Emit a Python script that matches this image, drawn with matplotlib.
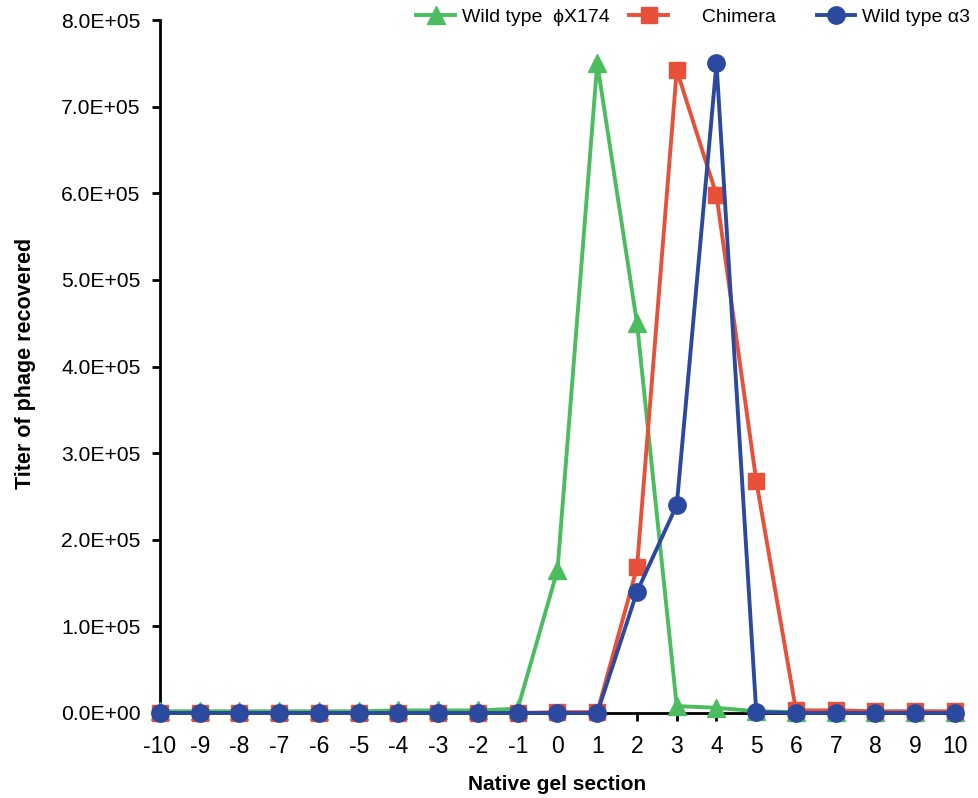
import matplotlib
matplotlib.use('Agg')
import matplotlib.pyplot as plt

plt.rcParams['font.family'] = ['Liberation Sans', 'DejaVu Sans']

# native gel sections
sections = list(range(-10, 11))

# titer of phage recovered per section
wild_phix = [2000, 2000, 2000, 2000, 2000, 2000, 3000, 3000, 3000, 5000, 165000,
             750000, 450000, 8000, 6000, 2000, 1000, 1000, 1000, 1500, 1000]
chimera = [0, 0, 0, 0, 0, 0, 0, 0, 0, 0, 1000,
           1000, 168000, 742000, 598000, 268000, 3000, 3000, 2000, 2000, 2000]
wild_alpha3 = [0, 0, 0, 0, 0, 0, 0, 0, 0, 0, 0,
               0, 140000, 240000, 750000, 1000, 0, 0, 0, 0, 0]

y_ticks = [i * 100000 for i in range(9)]
y_tick_labels = ['%.1fE+05' % (v / 100000) if v else '0.0E+00' for v in y_ticks]

green = '#4bbd5f'
red = '#e9503a'
blue = '#2b4a9f'

fig = plt.figure(figsize=(9.79, 7.98), dpi=100)
ax = fig.add_axes([160 / 979, 85 / 798, 795 / 979, 693 / 798])

lw = 2.8
ax.plot(sections, wild_phix, color=green, marker='^', markersize=13, lw=lw,
        clip_on=False, zorder=3, label='Wild type  ϕX174')
ax.plot(sections, chimera, color=red, marker='s', markersize=11.5, lw=lw,
        clip_on=False, zorder=4, label='     Chimera    ')
ax.plot(sections, wild_alpha3, color=blue, marker='o', markersize=12.5, lw=lw,
        clip_on=False, zorder=5, label='Wild type α3')

ax.set_xlim(-10, 10)
ax.set_ylim(0, 800000)
ax.set_xticks(sections)
ax.set_xticklabels([str(s) for s in sections],
                   family=['Liberation Sans Narrow', 'Liberation Sans'], fontsize=16.5)
ax.set_yticks(y_ticks)
ax.set_yticklabels(y_tick_labels, fontsize=15.2)

for spine in ['top', 'right']:
    ax.spines[spine].set_visible(False)
ax.spines['left'].set_linewidth(2)
ax.spines['bottom'].set_linewidth(2)
ax.tick_params(axis='both', width=2, length=6, direction='out')
ax.tick_params(axis='x', pad=10)
ax.tick_params(axis='y', pad=8)

ax.set_xlabel('Native gel section', fontsize=15, fontweight='bold', labelpad=12)
ax.set_ylabel('Titer of phage recovered', fontsize=15.5, fontweight='bold')
ax.yaxis.set_label_coords(-124 / 795, 0.505)

fig.legend(loc='upper right', bbox_to_anchor=(1.003, 1.004), ncol=3, frameon=False,
           fontsize=14, handlelength=2.0, columnspacing=1.0, handletextpad=0.35,
           borderaxespad=0.2)

fig.savefig('out.png', dpi=100, facecolor='white')
